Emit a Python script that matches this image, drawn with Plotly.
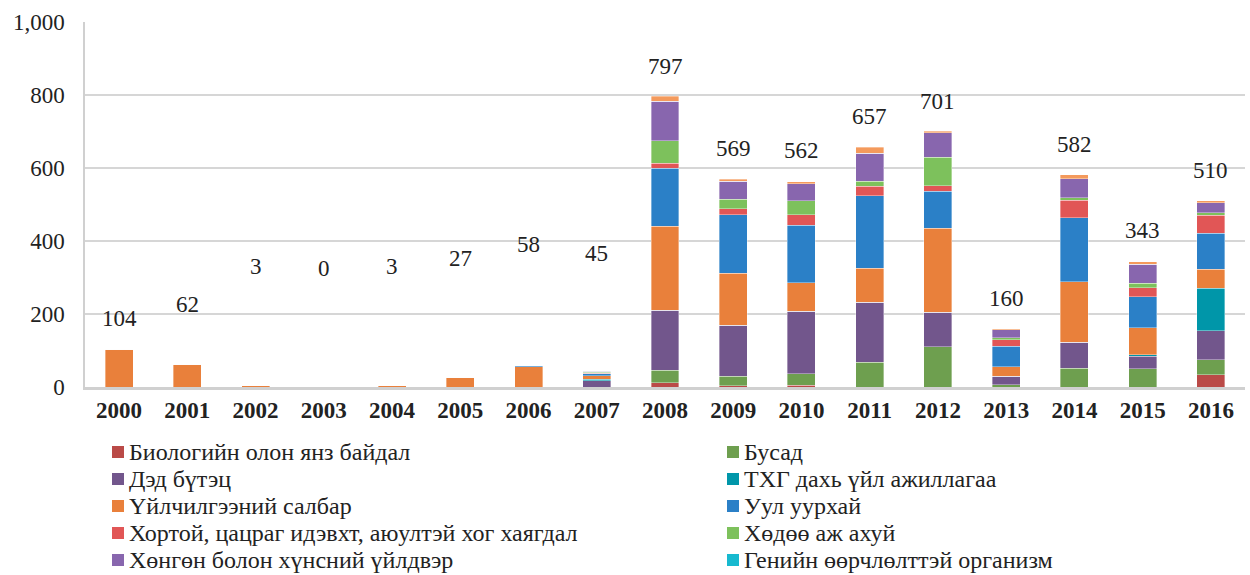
import plotly.graph_objects as go

years = ["2000", "2001", "2002", "2003", "2004", "2005", "2006", "2007", "2008",
         "2009", "2010", "2011", "2012", "2013", "2014", "2015", "2016"]

biologi   = [0, 0, 0, 0, 0, 0, 0, 0, 12, 4, 5, 0, 0, 0, 0, 0, 34]
busad     = [0, 0, 0, 0, 0, 0, 0, 0, 34, 25, 31, 68, 110, 6, 52, 50, 41]
ded_butets = [0, 0, 0, 0, 0, 0, 0, 17, 164, 140, 172, 164, 95, 23, 70, 34, 79]
txg       = [0, 0, 0, 0, 0, 0, 0, 4, 0, 0, 0, 0, 0, 0, 0, 4, 117]
uilchilgee = [104, 62, 3, 0, 3, 27, 56, 10, 231, 142, 78, 94, 230, 27, 167, 75, 52]
uul_uurhai = [0, 0, 0, 0, 0, 0, 2, 5, 158, 161, 157, 198, 102, 56, 175, 84, 98]
hortoi    = [0, 0, 0, 0, 0, 0, 0, 2, 14, 16, 29, 26, 15, 18, 47, 25, 49]
hodoo     = [0, 0, 0, 0, 0, 0, 0, 2, 61, 26, 38, 14, 77, 5, 8, 12, 8]
hongon    = [0, 0, 0, 0, 0, 0, 0, 3, 109, 50, 47, 76, 68, 22, 51, 52, 27]
genii     = [0] * 17
unlabeled = [0, 0, 0, 0, 0, 0, 0, 2, 14, 5, 5, 17, 4, 3, 12, 7, 5]

# (name, values, colour, shown in legend)
series = [
    ("Биологийн олон янз байдал", biologi, "#BA4A47", True),
    ("Бусад", busad, "#6E9F4F", True),
    ("Дэд бүтэц", ded_butets, "#72568C", True),
    ("ТХГ дахь үйл ажиллагаа", txg, "#0096A9", True),
    ("Үйлчилгээний салбар", uilchilgee, "#E9803B", True),
    ("Уул уурхай", uul_uurhai, "#2B80C7", True),
    ("Хортой, цацраг идэвхт, аюултэй хог хаягдал", hortoi, "#E15656", True),
    ("Хөдөө аж ахуй", hodoo, "#7DC15C", True),
    ("Хөнгөн болон хүнсний үйлдвэр", hongon, "#8866AE", True),
    ("Генийн өөрчлөлттэй организм", genii, "#17B9CF", True),
    ("Бусад салбар", unlabeled, "#F49A5C", False),
]

FONT = "Liberation Serif, Times New Roman, serif"
W, H = 1250, 575
ML, MR, MT, MB = 85, 5, 22, 188
PW, PH = W - ML - MR, H - MT - MB


def px_to_paper_x(px):
    return (px - ML) / PW


def px_to_paper_y(py):
    return (H - MB - py) / PH


fig = go.Figure()
for name, vals, color, show in series:
    fig.add_trace(go.Bar(
        x=years, y=vals, name=name, marker_color=color,
        marker_line_width=0.6, marker_line_color="rgba(255,255,255,0.6)",
        showlegend=False,
    ))

# total labels above the stacks
totals = [sum(s[1][i] for s in series) for i in range(len(years))]
label_lift_px = [31, 60, 119, 119, 119, 119, 121, 117, 30, 31, 31, 31, 30, 30, 30, 31, 30]
for i, (tot, lift) in enumerate(zip(totals, label_lift_px)):
    fig.add_annotation(x=i, y=tot, xref="x", yref="y", text=str(tot), showarrow=False,
                       yanchor="middle", yshift=lift,
                       font=dict(family=FONT, size=23, color="#222222"))

# two-column legend (row-wise order), drawn as swatch + real text
legend_items = [s for s in series if s[3]]
col_text_px = [128, 743]
row0_px, row_step_px, sw = 452, 27, 12
for k, (name, _, color, _) in enumerate(legend_items):
    row, col = divmod(k, 2)
    cy = row0_px + row * row_step_px
    tx = col_text_px[col]
    fig.add_shape(type="rect", xref="paper", yref="paper",
                  x0=px_to_paper_x(tx - 16), x1=px_to_paper_x(tx - 16 + sw),
                  y0=px_to_paper_y(cy + sw / 2), y1=px_to_paper_y(cy - sw / 2),
                  fillcolor=color, line_width=0)
    fig.add_annotation(xref="paper", yref="paper", x=px_to_paper_x(tx),
                       y=px_to_paper_y(cy), text=name, showarrow=False,
                       xanchor="left", yanchor="middle", borderpad=0,
                       font=dict(family=FONT, size=24, color="#222222"))

fig.update_layout(
    width=W, height=H,
    barmode="stack", bargap=0.59,
    paper_bgcolor="white", plot_bgcolor="white",
    margin=dict(l=ML, r=MR, t=MT, b=MB),
    font=dict(family=FONT, size=22, color="#222222"),
    showlegend=False,
    xaxis=dict(
        type="category", showgrid=False, showline=True, linecolor="#D0D0D0",
        linewidth=3, ticks="", ticklabelstandoff=0,
        tickfont=dict(family=FONT, size=23, color="#222222", weight="bold"),
    ),
    yaxis=dict(
        range=[0, 1000], dtick=200, tickformat=",", showgrid=True,
        gridcolor="#D6D6D6", gridwidth=1.5, showline=True, linecolor="#D0D0D0",
        linewidth=1.5, ticks="", ticklabelstandoff=14, zeroline=False,
        tickfont=dict(family=FONT, size=23, color="#222222"),
    ),
)

fig.write_html("out.html", config={"displayModeBar": False},
               post_script="document.body.style.margin='0px';document.body.style.overflow='hidden';")
